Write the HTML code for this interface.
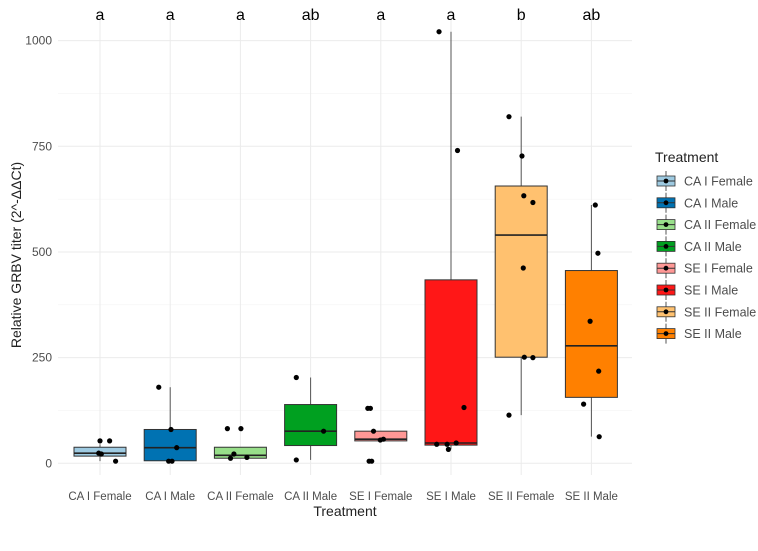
<!DOCTYPE html>
<html><head><meta charset="utf-8"><style>
body{margin:0;background:#fff;}
svg text{font-family:"Liberation Sans",sans-serif;}
</style></head><body>
<svg id="chart" width="758" height="546" viewBox="0 0 758 546" xmlns="http://www.w3.org/2000/svg">
<g id="grid"></g><g id="boxes"></g><g id="pts"></g><g id="axes"></g><g id="legend"></g>
</svg>
<script>
const categories=["CA I Female","CA I Male","CA II Female","CA II Male","SE I Female","SE I Male","SE II Female","SE II Male"];
const colors=["#a6cee3","#1f78b4","#b2df8a","#33a02c","#fb9a99","#e31a1c","#fdbf6f","#ff7f00"];
const fills=["#9ecae1","#0072b2","#98df8a","#00a020","#ff9896","#ff1717","#ffc16f","#ff8000"];
const letters=["a","a","a","ab","a","a","b","ab"];
const q1=[17,6,12,42,53,43,251,156];
const med=[24,37,19,76,57,48,540,278];
const q3=[38,80,38,139,76,434,656,456];
const wlo=[5,5,12,8,53,33,114,63];
const whi=[45,180,38,203,76,1021,820,611];
const points=[[53,53,24,22,5],[180,80,37,5,5],[82,82,22,12,14],[203,76,8],[130,130,76,57,55,5,5],[1021,740,132,45,45,48,33],[820,727,633,617,462,251,250,114],[611,497,336,218,140,63]];
const jitter=[[0,0.37,-0.05,0.05,0.6],[-0.44,0.03,0.25,-0.06,0.07],[-0.5,0.02,-0.25,-0.38,0.25],[-0.55,0.5,-0.55],[-0.5,-0.4,-0.28,0.1,-0.02,-0.45,-0.35],[-0.46,0.25,0.5,-0.55,-0.15,0.2,-0.1],[-0.47,0.03,0.1,0.45,0.08,0.12,0.45,-0.47],[0.15,0.25,-0.05,0.28,-0.3,0.3]];
const yTicks=[0,250,500,750,1000];
const yMinor=[125,375,625,875];
const NS="http://www.w3.org/2000/svg";
const X0=100,DX=70.2,Y0=463.3,K=0.4227,PL=58,PR=632,PT=10,PB=475;
const x=i=>X0+i*DX, y=v=>Y0-v*K;
function mk(tag,attrs,parent,txt){const e=document.createElementNS(NS,tag);for(const k in attrs)e.setAttribute(k,attrs[k]);if(txt!==undefined)e.textContent=txt;document.getElementById(parent).appendChild(e);return e;}
yMinor.forEach(v=>{const l=mk('line',{x1:PL,x2:PR,y1:y(v),y2:y(v),stroke:'#f3f3f3','stroke-width':0.6},'grid');

});
yTicks.forEach(v=>{const l=mk('line',{x1:PL,x2:PR,y1:y(v),y2:y(v),stroke:'#ebebeb','stroke-width':1},'grid');


const t=mk('text',{x:52,y:y(v)+4,'text-anchor':'end','font-size':12,fill:'#4d4d4d'},'axes',String(v));

});
categories.forEach((c,i)=>{const cx=x(i),hw=26;
const g=mk('line',{x1:cx,x2:cx,y1:PT,y2:PB,stroke:'#ebebeb','stroke-width':1},'grid');


const w=mk('line',{x1:cx,x2:cx,y1:y(whi[i]),y2:y(wlo[i]),stroke:'#555','stroke-width':1},'boxes');


const b=mk('rect',{x:cx-hw,y:y(q3[i]),width:hw*2,height:y(q1[i])-y(q3[i]),fill:fills[i],stroke:'#333','stroke-width':1},'boxes');


const m=mk('line',{x1:cx-hw,x2:cx+hw,y1:y(med[i]),y2:y(med[i]),stroke:'#222','stroke-width':1.6},'boxes');


points[i].forEach((v,j)=>{const p=mk('circle',{cx:cx+jitter[i][j]*hw,cy:y(v),r:2.6,fill:'#000'},'pts');

});
const lt=mk('text',{x:cx,y:20,'text-anchor':'middle','font-size':16,fill:'#000'},'axes',letters[i]);


const xt=mk('text',{x:cx,y:500,'text-anchor':'middle','font-size':11.5,fill:'#4d4d4d'},'axes',c);


const ly=181+i*21.8;
const kl=mk('line',{x1:666,x2:666,y1:ly-10,y2:ly+10,stroke:'#555','stroke-width':1},'legend');


const kr=mk('rect',{x:657,y:ly-5,width:18,height:10,fill:fills[i],stroke:'#333','stroke-width':0.8},'legend');


const km=mk('line',{x1:657,x2:675,y1:ly,y2:ly,stroke:'#333','stroke-width':1},'legend');


const kd=mk('circle',{cx:666,cy:ly,r:2.4,fill:'#000'},'legend');


const kt=mk('text',{x:684,y:ly+4.5,'font-size':12.5,fill:'#4d4d4d'},'legend',c);

});
const lgT=mk('text',{x:655,y:162,'font-size':14,fill:'#222'},'legend','Treatment');


const xT=mk('text',{x:345,y:516,'text-anchor':'middle','font-size':14,fill:'#222'},'axes','Treatment');


const yT=mk('text',{x:0,y:0,'text-anchor':'middle','font-size':14,fill:'#222',transform:'translate(21,255) rotate(-90)'},'axes','Relative GRBV titer (2^-ΔΔCt)');


</script>
</body></html>
